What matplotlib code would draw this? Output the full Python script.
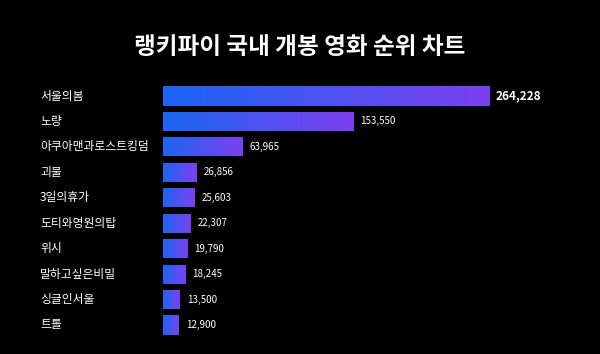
import numpy as np
import matplotlib
matplotlib.use("Agg")
import matplotlib.pyplot as plt
import matplotlib.transforms as mtransforms
from matplotlib.colors import LinearSegmentedColormap

plt.rcParams['font.family'] = ['Noto Sans CJK KR', 'DejaVu Sans']

titles = ["서울의봄", "노량", "아쿠아맨과로스트킹덤", "괴물", "3일의휴가",
          "도티와영원의탑", "위시", "말하고싶은비밀", "싱글인서울", "트롤"]
audience = [264228, 153550, 63965, 26856, 25603, 22307, 19790, 18245, 13500, 12900]

cmap = LinearSegmentedColormap.from_list("bar_grad", ["#1a66f2", "#7d3ff0"])

fig = plt.figure(figsize=(6, 3.54), dpi=100, facecolor="black")
ax = fig.add_axes([163 / 600, 1 - 337.7 / 354, 437 / 600, (337.7 - 83.3) / 354])
ax.set_facecolor("black")

xmax = audience[0] * 437 / 327
ax.set_xlim(0, xmax)
ax.set_ylim(len(titles) - 0.5, -0.5)
h = 0.75

grad = np.linspace(0, 1, 256).reshape(1, -1)
for i, v in enumerate(audience):
    bar = ax.barh(i, v, height=h, color="#3a55f0", linewidth=0)[0]
    im = ax.imshow(grad, cmap=cmap, aspect="auto",
                   extent=[0, v, i + h / 2, i - h / 2], zorder=2)
    im.set_clip_path(bar)
    if i == 0:
        ax.text(v + xmax * 0.012, i, f"{v:,}", color="white", fontsize=8.5,
                fontweight="bold", va="center", ha="left")
    else:
        ax.text(v + xmax * 0.016, i, f"{v:,}", color="white", fontsize=7,
                va="center", ha="left")

trans = mtransforms.blended_transform_factory(fig.transFigure, ax.transData)
for i, t in enumerate(titles):
    ax.text(40 / 600, i, t, transform=trans, color="white", fontsize=8.5,
            va="center", ha="left")

ax.set_xticks([])
ax.set_yticks([])
for s in ax.spines.values():
    s.set_visible(False)

fig.text(0.5, 1 - 47 / 354, "랭키파이 국내 개봉 영화 순위 차트", color="white",
         fontsize=17, fontweight="bold", ha="center", va="center")

fig.savefig("out.png", dpi=100, facecolor="black")
